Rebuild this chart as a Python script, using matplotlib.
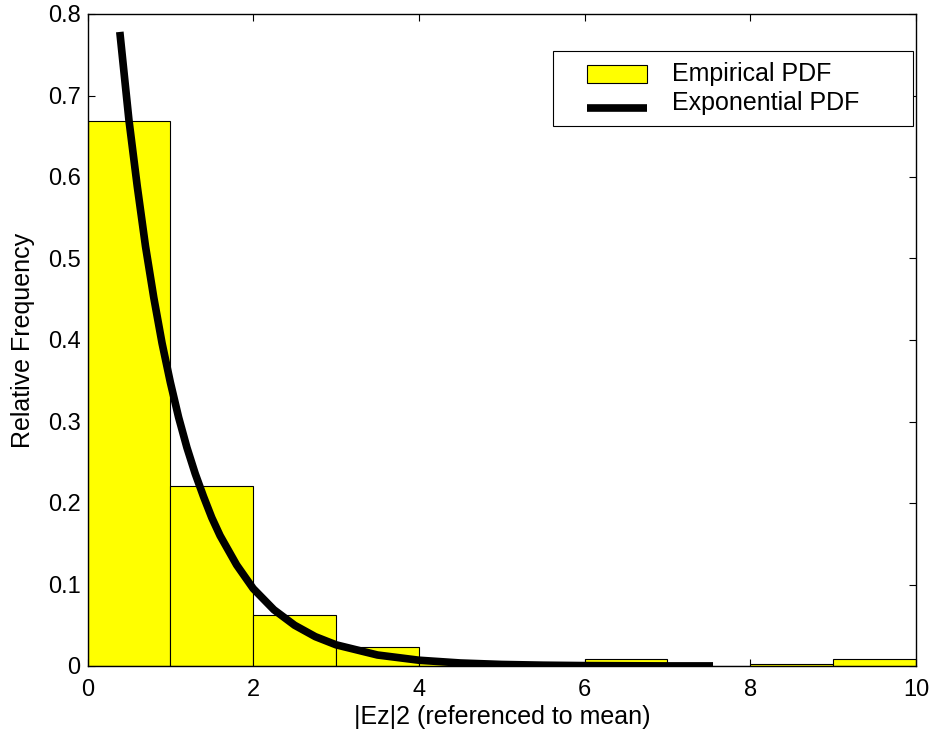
import matplotlib
matplotlib.use("Agg")
import matplotlib.pyplot as plt
from matplotlib.patches import Rectangle
from matplotlib.lines import Line2D
from matplotlib.legend_handler import HandlerBase

plt.rcParams['font.family'] = ['Liberation Sans', 'DejaVu Sans']

# Histogram (bin edges 0..10, width 1)
bin_left = [0, 1, 2, 3, 4, 5, 6, 7, 8, 9]
rel_freq = [0.669, 0.221, 0.0626, 0.023, 0.004, 0.0015, 0.009, 0.0, 0.002, 0.0086]

# Exponential PDF curve
curve_x = [0.39, 0.5, 0.6, 0.7, 0.8, 0.9, 1.0, 1.1, 1.2, 1.3, 1.4, 1.5, 1.6,
           1.8, 2.0, 2.25, 2.5, 2.75, 3.0, 3.5, 4.0, 4.5, 5.0, 5.5, 6.0,
           6.5, 7.0, 7.55]
curve_y = [0.778, 0.67, 0.589, 0.515, 0.452, 0.396, 0.348, 0.305, 0.268,
           0.236, 0.208, 0.182, 0.160, 0.124, 0.095, 0.069, 0.050, 0.036,
           0.026, 0.0135, 0.0071, 0.0037, 0.0019, 0.001, 0.0005, 0.0003,
           0.0001, 0.0001]

xticks = [0, 2, 4, 6, 8, 10]
xtick_labels = ['0', '2', '4', '6', '8', '10']
yticks = [0, 0.1, 0.2, 0.3, 0.4, 0.5, 0.6, 0.7, 0.8]
ytick_labels = ['0', '0.1', '0.2', '0.3', '0.4', '0.5', '0.6', '0.7', '0.8']

TICK_FS = 17
LABEL_FS = 18
LW_CURVE = 5.5

fig = plt.figure(figsize=(9.34, 7.36), dpi=100)
ax = fig.add_axes([87.5 / 934, 1 - 666 / 736, 828.5 / 934, 652 / 736])

bars = ax.bar(bin_left, rel_freq, width=1.0, align='edge', color='#ffff00',
              edgecolor='black', linewidth=0.8, label='Empirical PDF', zorder=2)
line, = ax.plot(curve_x, curve_y, color='black', linewidth=LW_CURVE,
                solid_capstyle='butt', solid_joinstyle='round',
                label='Exponential PDF', zorder=3)

ax.set_xlim(0, 10)
ax.set_ylim(0, 0.8)
ax.set_xticks(xticks)
ax.set_xticklabels(xtick_labels)
ax.set_yticks(yticks)
ax.set_yticklabels(ytick_labels)
ax.tick_params(direction='in', length=5, width=0.8, top=True, right=True,
               labelsize=TICK_FS, colors='black')
ax.tick_params(axis='y', pad=5)
ax.tick_params(axis='x', pad=9)
for s in ax.spines.values():
    s.set_linewidth(1.0)
    s.set_color('black')

ax.set_xlabel('|Ez|2 (referenced to mean)', fontsize=LABEL_FS, labelpad=3)
ax.set_ylabel('Relative Frequency', fontsize=LABEL_FS, labelpad=9)


class OffsetPatchHandler(HandlerBase):
    def create_artists(self, legend, orig_handle, xdescent, ydescent, width,
                       height, fontsize, trans):
        off = 0.27 * width
        r = Rectangle((-xdescent + off, -ydescent - 0.08 * height), width - off,
                      height, facecolor='#ffff00', edgecolor='black',
                      linewidth=0.8, transform=trans)
        return [r]


class OffsetLineHandler(HandlerBase):
    def create_artists(self, legend, orig_handle, xdescent, ydescent, width,
                       height, fontsize, trans):
        off = 0.27 * width
        y = -ydescent + 0.1 * height
        l = Line2D([-xdescent + off, -xdescent + width], [y, y], color='black',
                   linewidth=LW_CURVE, solid_capstyle='butt', transform=trans)
        return [l]


x0 = (553 - 87.5) / 828.5
x1 = (913 - 87.5) / 828.5
ytop = (666 - 51) / 652
leg = ax.legend([bars, line], ['Empirical PDF', 'Exponential PDF'],
                loc='upper left', bbox_to_anchor=(x0, ytop - 0.2, x1 - x0, 0.2),
                mode='expand', borderaxespad=0, fontsize=LABEL_FS, fancybox=False,
                frameon=True, framealpha=1, edgecolor='black',
                handlelength=3.3, handletextpad=1.0, labelspacing=0.2,
                borderpad=0.45, handler_map={bars: OffsetPatchHandler(),
                                              line: OffsetLineHandler()})
leg.get_frame().set_linewidth(0.8)

fig.savefig('out.png', dpi=100)
